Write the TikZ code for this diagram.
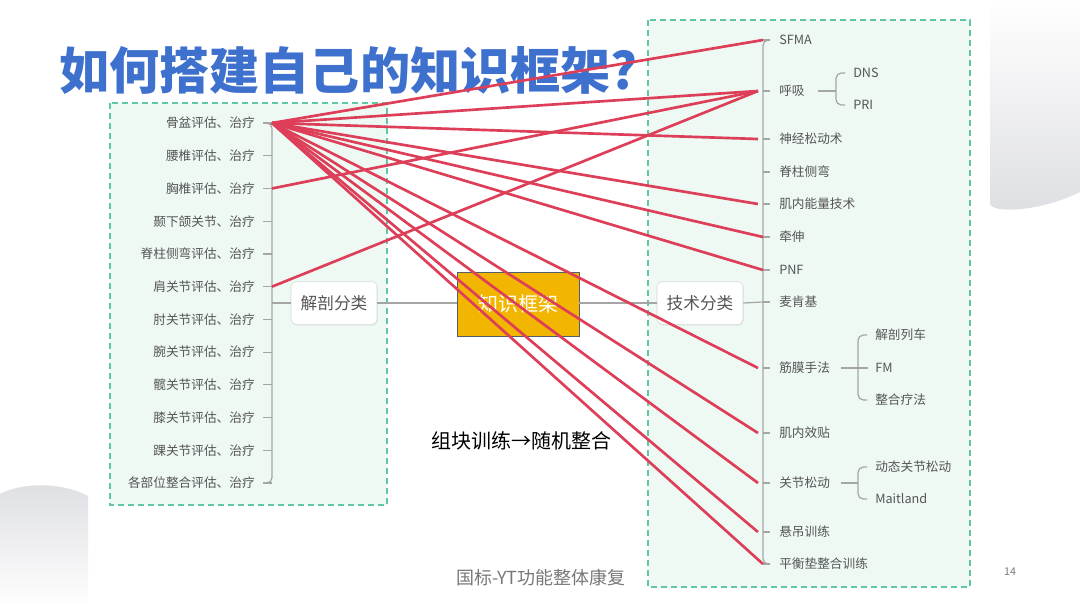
\documentclass[tikz,border=0pt]{standalone}
\usepackage{fontspec}
\setmainfont{Noto Sans CJK SC}
\usetikzlibrary{shadows}
\definecolor{labgray}{RGB}{85,85,85}
\definecolor{conngray}{RGB}{165,165,165}
\definecolor{relred}{RGB}{221,62,88}
\definecolor{panelgreen}{RGB}{96,200,160}
\definecolor{panelfill}{RGB}{238,249,243}
\definecolor{boxgray}{RGB}{215,215,215}
\definecolor{kfyellow}{RGB}{242,182,0}
\definecolor{kfborder}{RGB}{80,95,110}
\definecolor{titleblue}{RGB}{62,112,205}
\definecolor{footgray}{RGB}{120,120,120}
\definecolor{cornergray}{RGB}{222,223,227}
\begin{document}
\begin{tikzpicture}[x=0.75pt,y=-0.75pt,
 lab/.style={font=\fontsize{9.5}{11}\selectfont, text=labgray, inner sep=0pt},
 conn/.style={draw=conngray, line width=0.9pt},
 rel/.style={draw=relred, line width=2pt},
 panel/.style={draw=panelgreen, fill=panelfill, dash pattern=on 4.5pt off 3pt, line width=1.8pt},
 catbox/.style={draw=boxgray, fill=white, rounded corners=4pt, font=\fontsize{12.5}{14}\selectfont, text=labgray, minimum width=64.5pt, minimum height=32.5pt, inner sep=0pt, drop shadow={opacity=0.12, shadow xshift=0.6pt, shadow yshift=-0.8pt}},
 kfbox/.style={draw=kfborder, fill=kfyellow, line width=0.7pt, font=\fontsize{15}{17}\selectfont, text=white, minimum width=91.5pt, minimum height=48pt, inner sep=0pt}
]
\useasboundingbox (0,0) rectangle (1080,608);
\fill[white] (0,0) rectangle (1080,608);
% corner decorations
\shade[top color=white, bottom color=cornergray] (990,0) -- (990,203) .. controls (990,214) and (1040,212) .. (1080,192) -- (1080,0) -- cycle;
\shade[top color=cornergray, bottom color=white] (0,608) -- (0,494) .. controls (20,483) and (60,481) .. (88,496) -- (88,608) -- cycle;
% panels
\path[panel] (110,103) rectangle (387,505);
\path[panel] (648,20) rectangle (970,587);
% title
\node[anchor=west, inner sep=0pt, font=\fontsize{37.6}{40}\selectfont\bfseries, text=titleblue] (title) at (59,70) {如何搭建自己的知识框架?};
% left items
\foreach \lbl [count=\i] in {骨盆评估、治疗, 腰椎评估、治疗, 胸椎评估、治疗, 颞下颌关节、治疗, 脊柱侧弯评估、治疗, 肩关节评估、治疗, 肘关节评估、治疗, 腕关节评估、治疗, 髋关节评估、治疗, 膝关节评估、治疗, 踝关节评估、治疗, 各部位整合评估、治疗}{
  \pgfmathsetmacro\yy{123+(\i-1)*32.73}
  \node[lab, anchor=east] (l\i) at (255,\yy) {\lbl};
  \coordinate (lt\i) at (272,\yy);
  \draw[conn] (263,\yy) -- (lt\i);
}
\draw[conn, rounded corners=4pt] (263,123) -- (272,123) -- (272,483) -- (263,483);
% right items
\foreach \lbl/\yy [count=\i] in {SFMA/40, 呼吸/91, 神经松动术/139, 脊柱侧弯/172, 肌内能量技术/204, 牵伸/237, PNF/270, 麦肯基/302, 筋膜手法/368, 肌内效贴/433, 关节松动/483, 悬吊训练/532, 平衡垫整合训练/564}{
  \node[lab, anchor=west] (r\i) at (779,\yy) {\lbl};
  \coordinate (rt\i) at (763,\yy);
  \coordinate (re\i) at (758,\yy);
  \draw[conn] (rt\i) -- (770,\yy);
}
\draw[conn, rounded corners=4pt] (770,40) -- (763,40) -- (763,564) -- (770,564);
% sub-branches: 呼吸
\node[lab, anchor=west] (dns) at (853,73) {DNS};
\node[lab, anchor=west] (pri) at (853,105) {PRI};
\draw[conn] (818,91) -- (836,91);
\draw[conn, rounded corners=4pt] (845,73) -- (836,73) -- (836,105) -- (845,105);
% 筋膜手法
\node[lab, anchor=west] (jplc) at (875,335) {解剖列车};
\node[lab, anchor=west] (fm) at (875,368) {FM};
\node[lab, anchor=west] (zhlf) at (875,400) {整合疗法};
\draw[conn] (841,368) -- (868,368);
\draw[conn, rounded corners=4pt] (867,335) -- (858,335) -- (858,400) -- (867,400);
% 关节松动
\node[lab, anchor=west] (dtgj) at (875,467) {动态关节松动};
\node[lab, anchor=west] (mait) at (875,499) {Maitland};
\draw[conn] (841,483) -- (858,483);
\draw[conn, rounded corners=4pt] (867,467) -- (858,467) -- (858,499) -- (867,499);
% central nodes
\node[catbox] (jp) at (334,303) {解剖分类};
\node[kfbox] (kf) at (518,304) {知识框架};
\node[catbox] (js) at (700,303) {技术分类};
\draw[conn] (272,303) -- (jp.west);
\draw[conn] (jp.east) -- (kf.west |- jp.east);
\draw[conn] (kf.east |- js.west) -- (js.west);
\draw[conn] (js.east) -- (rt8);
% texts
\node[font=\fontsize{15}{17}\selectfont, text=black, inner sep=0pt] (note) at (521,441) {组块训练→随机整合};
\node[font=\fontsize{13.5}{15}\selectfont, text=footgray, inner sep=0pt] (foot) at (541,578) {国标-YT功能整体康复};
\node[font=\fontsize{8}{9}\selectfont, text=footgray, inner sep=0pt] (page) at (1010,572) {14};
% red relation lines
\foreach \j in {1,6,7,13}{
  \draw[rel] (lt1) -- (rt\j);
}
\foreach \j in {2,3,5,9,10,11,12}{
  \draw[rel] (lt1) -- (re\j);
}
\draw[rel] (lt3) -- (re2);
\draw[rel] (lt6) -- (re2);
\end{tikzpicture}
\end{document}
